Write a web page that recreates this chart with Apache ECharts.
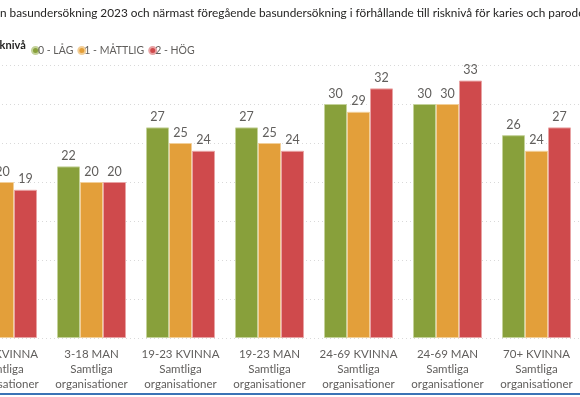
<!DOCTYPE html>
<html>
<head>
<meta charset="utf-8">
<script src="https://cdn.jsdelivr.net/npm/echarts@6/dist/echarts.min.js"></script>
<style>
  html, body { margin: 0; padding: 0; background: #fff; overflow: hidden; }
  /* bilden är beskuren till vänster: diagrammet börjar utanför fönstret */
  #chart { width: 623px; height: 397px; margin-left: -42px; }
</style>
</head>
<body>
<div id="chart"></div>
<script>
// kategorier (åldersgrupp + kön)
var categories = ['3-18 KVINNA', '3-18 MAN', '19-23 KVINNA', '19-23 MAN', '24-69 KVINNA', '24-69 MAN', '70+ KVINNA'];
var orgLabel = 'Samtliga\norganisationer';
// värden per risknivå
var lag = [21, 22, 27, 27, 30, 30, 26];
var mattlig = [20, 20, 25, 25, 29, 30, 24];
var hog = [19, 20, 24, 24, 32, 33, 27];
var seriesNames = ['0 - LÅG', '1 - MÅTTLIG', '2 - HÖG'];
var colors = ['#88a03b', '#e39f3a', '#cf4a4c'];
var borders = ['#c4d29a', '#f2cf99', '#e8a3a4'];

var chart = echarts.init(document.getElementById('chart'));

var font = 'Lato, "Noto Sans", sans-serif';
var shift = 42; // hur mycket som är avskuret till vänster

function bar(name, data, i) {
    return {
        name: name,
        type: 'bar',
        data: data,
        barWidth: 23,
        barGap: '0%',
        barCategoryGap: 20,
        itemStyle: {
            color: colors[i],
            borderColor: borders[i],
            borderWidth: 1
        },
        label: {
            show: true,
            position: 'top',
            distance: 4,
            color: '#605e5c',
            fontSize: 12.5,
            fontFamily: font
        }
    };
}

chart.setOption({
    animation: false,
    color: colors,
    title: {
        text: 'n basundersökning 2023 och närmast föregående basundersökning i förhållande till risknivå för karies och parodontit',
        left: shift - 5,
        top: 2,
        textStyle: {
            color: '#252423',
            fontSize: 11.8,
            fontWeight: 'normal',
            fontFamily: font
        }
    },
    graphic: [
        {
            type: 'text',
            left: shift - 15,
            top: 40,
            style: {
                text: 'Risknivå',
                fill: '#252423',
                font: 'bold 11px ' + font
            }
        },
        {
            type: 'rect',
            left: shift,
            top: 393,
            shape: { width: 580, height: 2 },
            style: { fill: '#3b73b6' }
        }
    ],
    legend: {
        left: shift + 26,
        top: 40,
        icon: 'circle',
        itemWidth: 7,
        itemHeight: 7,
        itemGap: 4,
        textStyle: {
            color: '#605e5c',
            fontSize: 10.5,
            fontFamily: font,
            padding: [0, 0, 0, -6]
        },
        data: seriesNames
    },
    grid: {
        left: 0,
        right: 0,
        top: 65,
        bottom: 59,
        containLabel: false
    },
    xAxis: {
        type: 'category',
        data: categories,
        axisLine: { show: false },
        axisTick: { show: false },
        axisLabel: {
            interval: 0,
            margin: 9,
            color: '#605e5c',
            fontSize: 11.5,
            lineHeight: 15,
            fontFamily: font,
            formatter: function (v) { return v + '\n' + orgLabel; }
        }
    },
    yAxis: {
        type: 'value',
        min: 0,
        max: 35,
        interval: 5,
        axisLabel: { show: false },
        axisLine: { show: false },
        splitLine: {
            lineStyle: { color: '#d9d9d9', type: [1, 3], width: 1 }
        }
    },
    series: [
        bar(seriesNames[0], lag, 0),
        bar(seriesNames[1], mattlig, 1),
        bar(seriesNames[2], hog, 2)
    ]
});
</script>
</body>
</html>
